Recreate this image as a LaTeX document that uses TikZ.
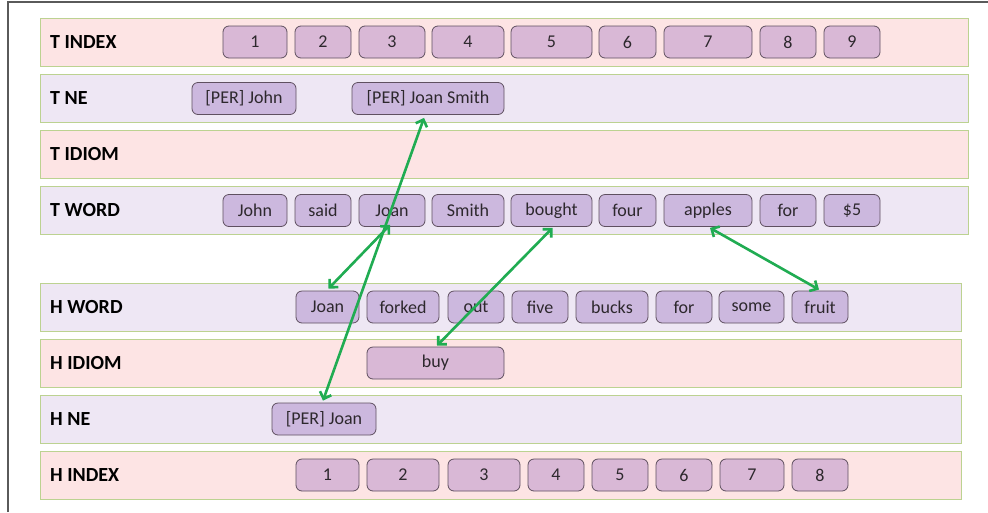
\documentclass[tikz,border=0pt]{standalone}
\usepackage{fontspec}
\setmainfont{Carlito}
\usetikzlibrary{arrows.meta}

\definecolor{rowpink}{RGB}{253,228,228}
\definecolor{rowlav}{RGB}{238,231,244}
\definecolor{rowedge}{RGB}{188,210,145}
\definecolor{tokpink}{RGB}{217,184,214}
\definecolor{toklav}{RGB}{204,184,222}
\definecolor{tokedge}{RGB}{95,80,96}
\definecolor{toktext}{RGB}{45,40,45}
\definecolor{linkgreen}{RGB}{32,172,82}
\definecolor{framegray}{RGB}{90,90,90}

\tikzset{
  rowbox/.style={draw=rowedge, line width=0.9pt, minimum height=48pt, inner sep=0pt, anchor=north west},
  pinkrow/.style={rowbox, fill=rowpink},
  lavrow/.style={rowbox, fill=rowlav},
  rowlabel/.style={anchor=west, inner sep=0pt, font=\fontsize{20}{22}\selectfont\bfseries},
  tok/.style={draw=tokedge, line width=0.8pt, rounded corners=6pt, minimum height=32pt,
              inner sep=0pt, text=toktext, font=\fontsize{18}{20}\selectfont},
  tokP/.style={tok, fill=tokpink},
  tokL/.style={tok, fill=toklav},
  link/.style={draw=linkgreen, line width=2.6pt,
               {Straight Barb[length=6pt,width=12pt]}-{Straight Barb[length=6pt,width=12pt]}}
}

% token box: style, name, left x, right x, centre y, text
\newcommand\tokn[6]{\node[#1, minimum width={#4-#3}] (#2) at ({(#3+#4)/2},#5) {#6};}

\begin{document}
\begin{tikzpicture}[x=1pt,y=-1pt]
  \fill[white] (0,0) rectangle (988,512);
  \useasboundingbox (0,0) rectangle (988,512);

  % window frame edges
  \draw[framegray, line width=1.6pt] (8,512) -- (8,2) -- (988,2);

  % layer bands
  \node[pinkrow, minimum width=928pt] (rTindex) at (40,18)  {};
  \node[lavrow,  minimum width=928pt] (rTne)    at (40,74)  {};
  \node[pinkrow, minimum width=928pt] (rTidiom) at (40,130) {};
  \node[lavrow,  minimum width=928pt] (rTword)  at (40,186) {};
  \node[lavrow,  minimum width=921pt] (rHword)  at (40,283) {};
  \node[pinkrow, minimum width=921pt] (rHidiom) at (40,339) {};
  \node[lavrow,  minimum width=921pt] (rHne)    at (40,395) {};
  \node[pinkrow, minimum width=921pt] (rHindex) at (40,451) {};

  % layer names
  \node[rowlabel] (lTindex) at (50,42)  {T INDEX};
  \node[rowlabel] (lTne)    at (50,98)  {T NE};
  \node[rowlabel] (lTidiom) at (50,154) {T IDIOM};
  \node[rowlabel] (lTword)  at (50,210) {T WORD};
  \node[rowlabel] (lHword)  at (50,307) {H WORD};
  \node[rowlabel] (lHidiom) at (50,363) {H IDIOM};
  \node[rowlabel] (lHne)    at (50,419) {H NE};
  \node[rowlabel] (lHindex) at (50,475) {H INDEX};

  % text side: indices
  \tokn{tokP}{ti1}{223}{287}{42}{1}
  \tokn{tokP}{ti2}{295}{351}{42}{2}
  \tokn{tokP}{ti3}{359}{425}{42}{3}
  \tokn{tokP}{ti4}{432}{504}{42}{4}
  \tokn{tokP}{ti5}{511}{592}{42}{5}
  \tokn{tokP}{ti6}{599}{656}{42}{6}
  \tokn{tokP}{ti7}{664}{752}{42}{7}
  \tokn{tokP}{ti8}{760}{816}{42}{8}
  \tokn{tokP}{ti9}{824}{880}{42}{9}

  % text side: named entities
  \tokn{tokL}{tneJohn}{192}{296}{98.5}{[PER] John}
  \tokn{tokL}{tneJS}{352}{504}{98.5}{[PER] Joan Smith}

  % text side: words
  \tokn{tokL}{tw1}{223}{287}{210.5}{John}
  \tokn{tokL}{tw2}{295}{351}{210.5}{said}
  \tokn{tokL}{tw3}{359}{425}{210.5}{Joan}
  \tokn{tokL}{tw4}{432}{504}{210.5}{Smith}
  \tokn{tokL}{tw5}{511}{592}{210.5}{bought}
  \tokn{tokL}{tw6}{599}{656}{210.5}{four}
  \tokn{tokL}{tw7}{664}{752}{210.5}{apples}
  \tokn{tokL}{tw8}{760}{816}{210.5}{for}
  \tokn{tokL}{tw9}{824}{880}{210.5}{\$5}

  % hypothesis side: words
  \tokn{tokL}{hw1}{296}{359}{307}{Joan}
  \tokn{tokL}{hw2}{367}{439}{307}{forked}
  \tokn{tokL}{hw3}{448}{504}{307}{out}
  \tokn{tokL}{hw4}{512}{568}{307}{five}
  \tokn{tokL}{hw5}{576}{648}{307}{bucks}
  \tokn{tokL}{hw6}{656}{712}{307}{for}
  \tokn{tokL}{hw7}{719}{784}{307}{some}
  \tokn{tokL}{hw8}{792}{848}{307}{fruit}

  % hypothesis side: idiom and named entity
  \tokn{tokP}{hidBuy}{367}{504}{363}{buy}
  \tokn{tokL}{hneJoan}{272}{376}{419}{[PER] Joan}

  % hypothesis side: indices
  \tokn{tokP}{hi1}{296}{359}{475}{1}
  \tokn{tokP}{hi2}{367}{439}{475}{2}
  \tokn{tokP}{hi3}{448}{520}{475}{3}
  \tokn{tokP}{hi4}{528}{584}{475}{4}
  \tokn{tokP}{hi5}{592}{648}{475}{5}
  \tokn{tokP}{hi6}{656}{712}{475}{6}
  \tokn{tokP}{hi7}{720}{784}{475}{7}
  \tokn{tokP}{hi8}{792}{848}{475}{8}

  % alignments
  \draw[link] ([xshift=-4pt,yshift=-3pt]tneJS.south) -- ([xshift=-1pt,yshift=2pt]hneJoan.north);
  \draw[link] ([xshift=-2pt,yshift=2pt]tw3.south) -- ([xshift=1pt,yshift=2pt]hw1.north);
  \draw[link] ([xshift=1pt,yshift=-1pt]tw5.south) -- ([xshift=1.5pt,yshift=1pt]hidBuy.north);
  \draw[link] ([xshift=2pt,yshift=-1pt]tw7.south) -- ([xshift=-1pt,yshift=1pt]hw8.north);
\end{tikzpicture}
\end{document}
